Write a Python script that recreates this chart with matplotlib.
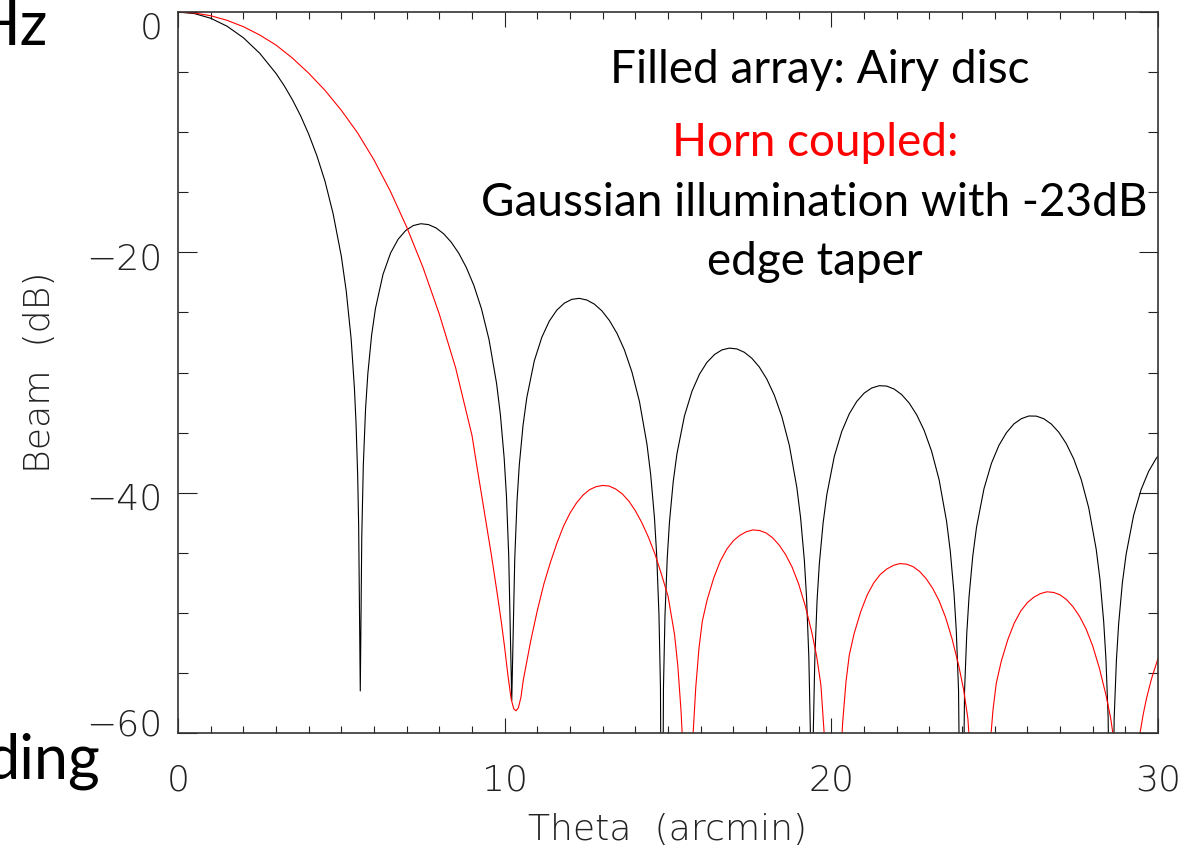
import matplotlib
matplotlib.use("Agg")
import matplotlib.pyplot as plt
import matplotlib.transforms as mtransforms
from matplotlib.ticker import MultipleLocator

# black curve: filled array (Airy disc)
theta_airy = [0.0, 0.5, 1.0, 1.5, 2.0, 2.5, 3.0, 3.25, 3.5, 3.75, 4.0, 4.25, 4.5, 4.75, 5.0, 5.15, 5.3, 5.4,
              5.45, 5.5, 5.53, 5.58,
              5.626, 5.673, 5.742, 5.812, 5.928, 6.044, 6.276, 6.507, 6.739, 6.971, 7.203, 7.435, 7.667, 7.899,
              8.130, 8.362, 8.594, 8.826, 9.058, 9.290, 9.521, 9.753, 9.869, 9.985, 10.055, 10.124, 10.171, 10.217,
              10.263, 10.309, 10.378, 10.447, 10.562, 10.677, 10.907, 11.137, 11.367, 11.596, 11.826, 12.056, 12.286,
              12.516, 12.746, 12.976, 13.206, 13.436, 13.666, 13.895, 14.125, 14.355, 14.470, 14.585, 14.654, 14.723,
              14.769, 14.815,
              14.861, 14.907, 14.976, 15.044, 15.159, 15.274, 15.503, 15.733, 15.962, 16.191, 16.421, 16.650, 16.880,
              17.109, 17.338, 17.568, 17.797, 18.027, 18.256, 18.485, 18.715, 18.944, 19.059, 19.174, 19.242, 19.311,
              19.357, 19.403,
              19.449, 19.495, 19.563, 19.632, 19.747, 19.861, 20.090, 20.320, 20.549, 20.778, 21.007, 21.236, 21.465,
              21.695, 21.924, 22.153, 22.382, 22.611, 22.840, 23.069, 23.299, 23.528, 23.642, 23.757, 23.826, 23.894,
              23.986,
              24.078, 24.146, 24.215, 24.330, 24.444, 24.673, 24.902, 25.131, 25.360, 25.589, 25.818, 26.047, 26.276,
              26.505, 26.734, 26.963, 27.192, 27.421, 27.650, 27.879, 28.108, 28.223, 28.337, 28.406, 28.474, 28.566,
              28.658, 28.726, 28.795, 28.909, 29.024, 29.253, 29.482, 29.711, 29.940, 30.0]
beam_airy = [0.0, -0.13, -0.52, -1.18, -2.14, -3.43, -5.11, -6.13, -7.29, -8.62, -10.16, -11.95, -14.08, -16.81, -20.33,
             -23.22, -27.20, -31.28, -34.22, -38.55, -42.7, -56.5,
             -43.61, -37.70, -33.00, -30.08, -26.87, -24.68, -21.83, -20.06, -18.91, -18.18, -17.77, -17.62, -17.69,
             -17.97, -18.45, -19.15, -20.07, -21.26, -22.76, -24.70, -27.26, -30.92, -33.51, -37.13, -40.30, -45.24,
             -51.32, -57.3,
             -51.44, -45.48, -40.72, -37.72, -34.40, -32.10, -29.03, -27.07, -25.72, -24.81, -24.23, -23.91, -23.83,
             -23.97, -24.31, -24.87, -25.67, -26.73, -28.12, -29.95, -32.40, -35.95, -38.50, -42.07, -45.21, -50.12,
             -56.18, -80,
             -56.26, -50.28, -45.49, -42.47, -39.10, -36.76, -33.62, -31.57, -30.15, -29.16, -28.51, -28.12, -27.97,
             -28.04, -28.32, -28.82, -29.55, -30.56, -31.90, -33.67, -36.07, -39.57, -42.09, -45.63, -48.76, -53.66,
             -59.71, -80,
             -59.77, -53.78, -48.98, -45.94, -42.55, -40.18, -36.99, -34.90, -33.44, -32.41, -31.71, -31.29, -31.10,
             -31.13, -31.38, -31.84, -32.54, -33.51, -34.81, -36.55, -38.92, -42.39, -44.89, -48.43, -51.54, -56.43,
             -80,
             -56.53, -51.72, -48.68, -45.27, -42.89, -39.67, -37.55, -36.06, -35.01, -34.28, -33.84, -33.62, -33.63,
             -33.85, -34.29, -34.97, -35.92, -37.20, -38.91, -41.26, -44.71, -47.20, -50.72, -53.83, -58.72, -80,
             -58.80, -53.98, -50.93, -47.51, -45.13, -41.89, -39.75, -38.24, -37.17, -36.95]

# red curve: horn coupled, gaussian illumination with -23 dB edge taper
theta_horn = [0.0, 0.5, 1.0, 1.5, 2.0, 2.5, 3.0, 3.5, 4.0, 4.5, 5.0, 5.5, 6.0, 6.5, 7.0, 7.5, 8.0, 8.5, 9.0,
              9.15, 9.3, 9.45, 9.6, 9.75, 9.9, 10.0, 10.1, 10.2, 10.28, 10.35, 10.42, 10.5, 10.57, 10.8, 11.0,
              11.2, 11.4, 11.6, 11.8, 12.0, 12.2, 12.4, 12.6, 12.8, 13.0, 13.2, 13.4, 13.6, 13.8, 14.0, 14.2,
              14.4, 14.6, 14.8, 15.0, 15.1, 15.2, 15.3, 15.4, 15.45, 15.6,
              15.7, 15.77, 15.85, 15.95, 16.05, 16.2, 16.4, 16.6, 16.8, 17.0, 17.2, 17.4, 17.6, 17.8, 18.0, 18.2,
              18.4, 18.6, 18.8, 19.0, 19.2, 19.4, 19.55, 19.68, 19.78, 19.85, 20.03,
              20.2, 20.27, 20.35, 20.45, 20.55, 20.7, 20.9, 21.1, 21.3, 21.5, 21.7, 21.9, 22.1, 22.3, 22.5, 22.7,
              22.9, 23.1, 23.3, 23.5, 23.7, 23.9, 24.05, 24.18, 24.28, 24.51,
              24.78, 24.85, 24.95, 25.05, 25.2, 25.4, 25.6, 25.8, 26.0, 26.2, 26.4, 26.6, 26.8, 27.0, 27.2, 27.4,
              27.6, 27.8, 28.0, 28.2, 28.4, 28.55, 28.68, 29.0,
              29.2, 29.45, 29.55, 29.65, 29.8, 30.0]
beam_horn = [0.0, -0.08, -0.31, -0.69, -1.22, -1.91, -2.75, -3.83, -5.09, -6.52, -8.18, -10.07, -12.31, -14.91,
             -17.89, -21.26, -25.15, -29.62, -35.24,
             -37.8, -40.3, -42.8, -45.3, -48.0, -50.8, -52.9, -55.2, -57.2, -58.0, -58.15, -57.9, -57.0, -55.6,
             -52.3, -49.8, -47.6, -45.8, -44.2, -42.8, -41.7, -40.85, -40.2, -39.75, -39.5, -39.4, -39.45, -39.7,
             -40.1, -40.7, -41.5, -42.5, -43.7, -45.1, -46.8, -48.6, -50.2, -51.8, -54.4, -58.2, -61.0, -75,
             -64.0, -60.0, -56.2, -52.9, -50.7, -48.9, -47.1, -45.7, -44.7, -44.0, -43.55, -43.25, -43.1, -43.15,
             -43.35, -43.75, -44.35, -45.15, -46.2, -47.6, -49.4, -51.6, -53.6, -56.0, -60.0, -63.0, -75,
             -66.8, -62.8, -59.0, -55.7, -53.5, -51.7, -49.9, -48.5, -47.5, -46.8, -46.35, -46.05, -45.9, -45.95,
             -46.15, -46.55, -47.15, -47.95, -49.0, -50.4, -52.2, -54.4, -56.4, -58.8, -62.8, -75,
             -64.0, -61.35, -58.05, -55.85, -54.05, -52.25, -50.85, -49.85, -49.15, -48.7, -48.4, -48.25, -48.3,
             -48.5, -48.9, -49.5, -50.3, -51.35, -52.75, -54.55, -56.75, -58.75, -61.15, -75,
             -70.0, -60.0, -58.4, -57.1, -55.5, -53.8]

xticks = [0, 10, 20, 30]
xtick_labels = ["0", "10", "20", "30"]
yticks = [0, -20, -40, -60]
ytick_labels = ["0", "\u221220", "\u221240", "\u221260"]

W, H = 1200, 848
fig = plt.figure(figsize=(W / 100, H / 100), dpi=100)
ax = fig.add_axes([178 / W, 1 - 733 / H, 980 / W, 721 / H])

ax.plot(theta_airy, beam_airy, color="black", lw=0.8)
ax.plot(theta_horn, beam_horn, color="red", lw=0.8)

ax.set_xlim(0, 30)
ax.set_ylim(-60, 0)

# thin, wide lettering like the IDL vector font
tick_font = dict(family=["DejaVu Sans"], weight=200, size=26)
axis_col = "#222222"
ax.set_xticks(xticks)
ax.set_xticklabels(xtick_labels, fontdict=tick_font, color=axis_col)
ax.set_yticks(yticks)
ax.set_yticklabels(ytick_labels, fontdict=tick_font, color=axis_col)
ax.xaxis.set_minor_locator(MultipleLocator(1))
ax.yaxis.set_minor_locator(MultipleLocator(5))

ax.tick_params(which="both", direction="in", top=True, right=True, color="#222222", width=0.8)
ax.tick_params(axis="x", which="major", length=11, pad=22)
ax.tick_params(axis="x", which="minor", length=5)
ax.tick_params(axis="y", which="major", length=14, pad=11)
ax.tick_params(axis="y", which="minor", length=7)
for s in ax.spines.values():
    s.set_linewidth(1.2)
    s.set_color("#333333")

# IDL nudges the end labels inside the axis range
for lab, dy in zip(ax.get_yticklabels(), [-13, -4, -3, 11]):
    lab.set_transform(lab.get_transform() + mtransforms.ScaledTranslation(0, dy / 100, fig.dpi_scale_trans))

ax.set_xlabel("Theta  (arcmin)", fontdict=tick_font, color=axis_col, labelpad=11)
ax.set_ylabel("Beam  (dB)", fontdict=tick_font, color=axis_col, labelpad=21)

# slide text over the plot
txt = dict(family="Lato", size=33, ha="center", va="center")
fig.text(820 / W, 1 - 70 / H, "Filled array: Airy disc", color="black", **txt)
fig.text(815 / W, 1 - 143 / H, "Horn coupled:", color="red", **txt)
fig.text(814 / W, 1 - 203 / H, "Gaussian illumination with -23dB", color="black", **txt)
fig.text(815 / W, 1 - 262 / H, "edge taper", color="black", **txt)

# bits of slide text cut off at the left edge
fig.text(48 / W, 1 - 45 / H, "Hz", family="Lato", size=44, ha="right", va="baseline")
fig.text(100 / W, 1 - 778 / H, "ding", family="Lato", size=44, ha="right", va="baseline")

fig.savefig("out.png", dpi=100)
